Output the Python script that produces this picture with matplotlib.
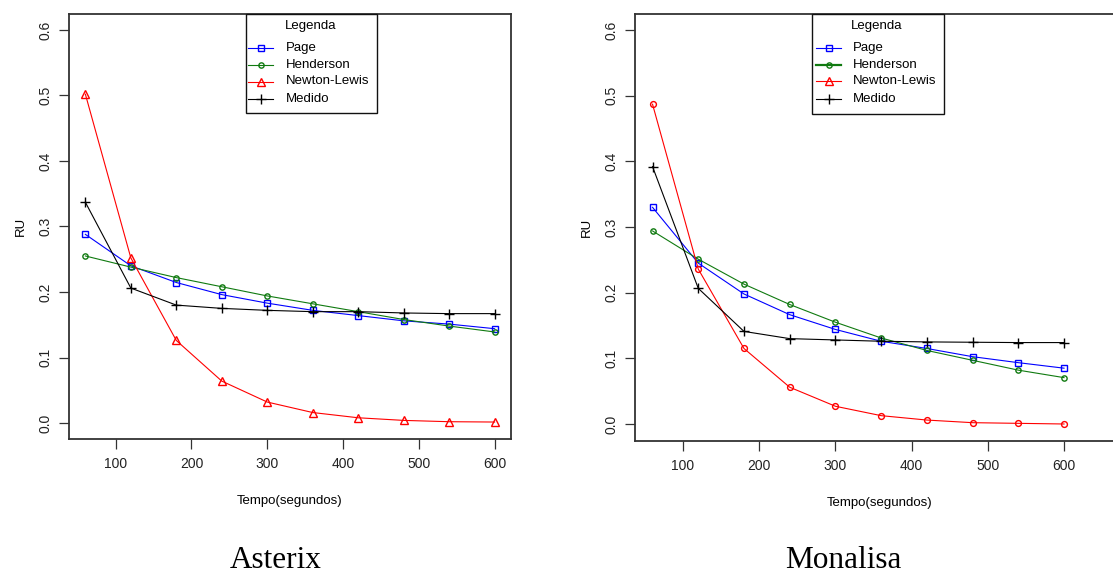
import matplotlib
matplotlib.use("Agg")
import matplotlib.pyplot as plt
from matplotlib.lines import Line2D
from matplotlib.patches import Rectangle

plt.rcParams['font.family'] = ['Liberation Sans', 'DejaVu Sans']

tempo = [60, 120, 180, 240, 300, 360, 420, 480, 540, 600]

# Asterix
ast_page = [0.288, 0.240, 0.2145, 0.196, 0.183, 0.172, 0.164, 0.156, 0.151, 0.144]
ast_henderson = [0.255, 0.238, 0.222, 0.208, 0.194, 0.182, 0.170, 0.158, 0.148, 0.139]
ast_newton = [0.502, 0.252, 0.126, 0.064, 0.032, 0.016, 0.008, 0.004, 0.002, 0.0015]
ast_medido = [0.337, 0.206, 0.180, 0.175, 0.172, 0.170, 0.170, 0.168, 0.167, 0.167]

# Monalisa
mon_page = [0.330, 0.245, 0.198, 0.1665, 0.144, 0.126, 0.115, 0.1025, 0.0934, 0.085]
mon_henderson = [0.294, 0.251, 0.213, 0.182, 0.155, 0.131, 0.112, 0.097, 0.082, 0.0706]
mon_newton = [0.487, 0.236, 0.115, 0.056, 0.027, 0.0127, 0.006, 0.002, 0.001, 0.0]
mon_medido = [0.392, 0.2066, 0.141, 0.130, 0.128, 0.126, 0.125, 0.1245, 0.124, 0.124]

labels = ["Page", "Henderson", "Newton-Lewis", "Medido"]
legend_title = "Legenda"
titles = ["Asterix", "Monalisa"]
yticks = [0.0, 0.1, 0.2, 0.3, 0.4, 0.5, 0.6]
xticks = [100, 200, 300, 400, 500, 600]

BLUE, GREEN, RED, BLACK = "#0000ff", "#107a10", "#ff0000", "#000000"
LW = 0.8

W, H = 1113, 573
fig = plt.figure(figsize=(W / 100, H / 100), dpi=100)

def fx(x):
    return x / W

def fy(y):
    return 1 - y / H

def px_axes(x0, y0, x1, y1):
    return fig.add_axes([fx(x0), fy(y1), (x1 - x0) / W, (y1 - y0) / H])

ax1 = px_axes(69, 14, 511, 439)
ax2 = px_axes(635, 14, 1125, 441)

styles = [
    dict(color=BLUE, marker="s", ms=4.6),
    dict(color=GREEN, marker="o", ms=3.8),
    dict(color=RED, marker="^", ms=6.0),
    dict(color=BLACK, marker="+", ms=7.0),
]

def draw_legend(box, line_x, text_x, title_x, rows, hend_lw):
    x0, y0, x1, y1 = box
    fig.patches.append(Rectangle((fx(x0), fy(y1)), fx(x1) - fx(x0), fy(y0) - fy(y1),
                                 transform=fig.transFigure, fill=True, fc="white",
                                 ec="#111111", lw=1.0, zorder=5))
    fig.text(fx(title_x), fy(26), legend_title, ha="center", va="center",
             fontsize=9.5, zorder=6)
    for i, (lab, st) in enumerate(zip(labels, styles)):
        yy = fy(rows[i])
        lw = hend_lw if i == 1 else LW
        fig.add_artist(Line2D([fx(line_x[0]), fx(line_x[1])], [yy, yy], color=st["color"],
                              lw=lw, transform=fig.transFigure, zorder=6))
        fig.add_artist(Line2D([fx((line_x[0] + line_x[1]) / 2)], [yy], color=st["color"],
                              marker=st["marker"], ms=st["ms"], mfc="none", mec=st["color"],
                              mew=1.0, ls="none", transform=fig.transFigure, zorder=7))
        fig.text(fx(text_x), yy, lab, ha="left", va="center", fontsize=9.5, zorder=6)

def draw(ax, series, newt_marker, xlim, ylim, right_spine=True):
    for i, (vals, st) in enumerate(zip(series, styles)):
        marker, ms = st["marker"], st["ms"]
        if i == 2 and newt_marker == "o":
            marker, ms = "o", 4.2
        if marker == "+":
            ax.plot(tempo, vals, color=st["color"], lw=LW, marker="+", ms=ms, mew=1.0)
        else:
            ax.plot(tempo, vals, color=st["color"], lw=LW, marker=marker, ms=ms,
                    mfc="none", mec=st["color"], mew=1.0)
    ax.set_xlim(*xlim)
    ax.set_ylim(*ylim)
    ax.set_xticks(xticks)
    ax.set_yticks(yticks)
    ax.set_yticklabels([f"{v:.1f}" for v in yticks], rotation=90, va="center")
    ax.tick_params(direction="out", length=7, width=0.9, colors="#333333", labelsize=10,
                   labelcolor="#222222")
    ax.tick_params(axis="x", pad=6)
    ax.tick_params(axis="y", pad=5)
    for s in ax.spines.values():
        s.set_color("#333333")
        s.set_linewidth(1.3)
    if not right_spine:
        ax.spines["right"].set_visible(False)
    ax.set_xlabel("Tempo(segundos)", fontsize=9.5, labelpad=17)
    ax.set_ylabel("RU", fontsize=9.5, labelpad=8)

draw(ax1, [ast_page, ast_henderson, ast_newton, ast_medido], "^",
     (38.4, 621.6), (-0.0244, 0.6244))
draw(ax2, [mon_page, mon_henderson, mon_newton, mon_medido], "o",
     (37.0, 680.0), (-0.0259, 0.6244), right_spine=False)

draw_legend((246, 14, 377, 113), (248, 273), 286, 311, [48, 65, 81.5, 98.5], LW)
draw_legend((812, 14, 944, 114), (816, 841), 853, 877, [48, 64.5, 81, 98.5], 1.6)

fig.text(fx(276), fy(560), titles[0], ha="center", va="center",
         fontsize=22.5, family="Liberation Serif")
fig.text(fx(843), fy(560), titles[1], ha="center", va="center",
         fontsize=22.5, family="Liberation Serif")

fig.savefig("out.png", dpi=100)
